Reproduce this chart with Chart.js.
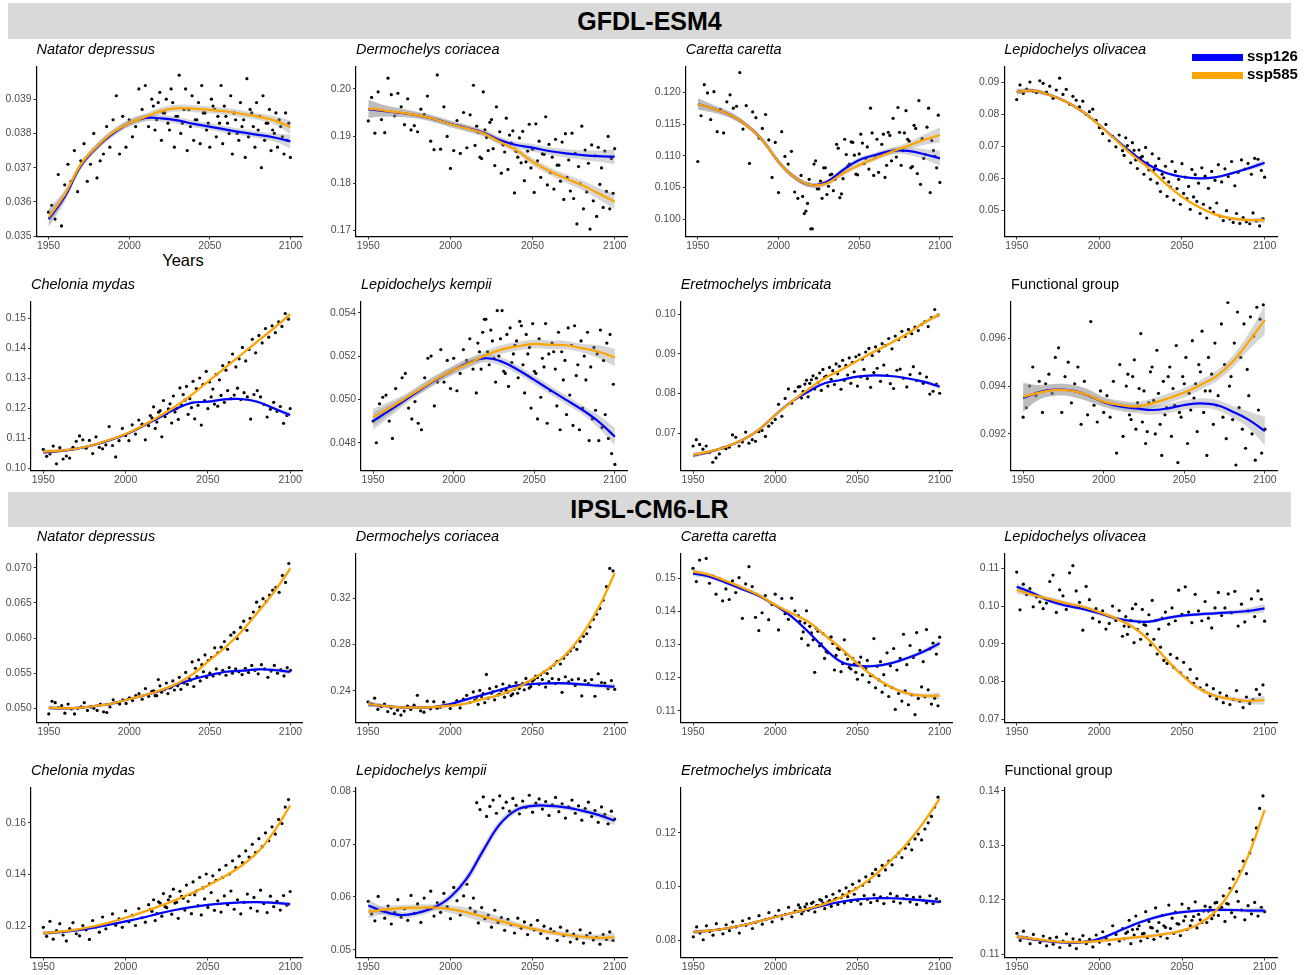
<!DOCTYPE html>
<html>
<head>
<meta charset="utf-8">
<script src="https://cdn.jsdelivr.net/npm/chart.js@4.4.1/dist/chart.umd.min.js"></script>
<style>
  body { margin: 0; background: #fff; }
  #page { position: relative; width: 1307px; height: 975px; overflow: hidden;
          font-family: 'Liberation Sans', Arial, Helvetica, sans-serif; }
  .strip { position: absolute; left: 8px; width: 1283px; background: #d9d9d9;
           text-align: center; font-weight: bold; font-size: 25px; color: #000; }
  canvas { position: absolute; }
  .swatch { position: absolute; left: 1192px; width: 51px; height: 7px; z-index: 5; }
  .keytext { position: absolute; left: 1247px; font-weight: bold; font-size: 15px;
             line-height: 15px; color: #000; z-index: 5; }
  #years { position: absolute; left: 133px; width: 100px; top: 251px; text-align: center;
           font-size: 16.5px; line-height: 18px; color: #000; }
</style>
</head>
<body>
<div id="page">
  <div class="strip" style="top:3px;height:36px;line-height:36px">GFDL-ESM4</div>
  <div class="strip" style="top:492px;height:35px;line-height:35px">IPSL-CM6-LR</div>
  <div class="swatch" style="top:54px;background:#0000ff"></div>
  <div class="keytext" style="top:48px">ssp126</div>
  <div class="swatch" style="top:72px;background:#ffa500"></div>
  <div class="keytext" style="top:66px">ssp585</div>
  <div id="years">Years</div>
</div>
<script>
// 16 panels: rows 1-2 GFDL-ESM4, rows 3-4 IPSL-CM6-LR

const yearKnots   = [1950,1960,1970,1980,1990,2000,2010,2020,2030,2040,2050,2060,2070,2080,2090,2100];
const xTickValues = [1950, 2000, 2050, 2100];
const xLimits     = [1942.5, 2107.5];

const panelNames = [
  'Natator depressus','Dermochelys coriacea','Caretta caretta','Lepidochelys olivacea',
  'Chelonia mydas','Lepidochelys kempii','Eretmochelys imbricata','Functional group',
  'Natator depressus','Dermochelys coriacea','Caretta caretta','Lepidochelys olivacea',
  'Chelonia mydas','Lepidochelys kempii','Eretmochelys imbricata','Functional group',
];

const yTickText = [
  ['0.035','0.036','0.037','0.038','0.039'], ['0.17','0.18','0.19','0.20'],
  ['0.100','0.105','0.110','0.115','0.120'], ['0.05','0.06','0.07','0.08','0.09'],
  ['0.10','0.11','0.12','0.13','0.14','0.15'], ['0.048','0.050','0.052','0.054'],
  ['0.07','0.08','0.09','0.10'], ['0.092','0.094','0.096'],
  ['0.050','0.055','0.060','0.065','0.070'], ['0.24','0.28','0.32'],
  ['0.11','0.12','0.13','0.14','0.15'], ['0.07','0.08','0.09','0.10','0.11'],
  ['0.12','0.14','0.16'], ['0.05','0.06','0.07','0.08'],
  ['0.08','0.10','0.12'], ['0.11','0.12','0.13','0.14'],
];

const yLimits = [
  [0.03499,0.03994],[0.16862,0.20468],[0.09729,0.12398],[0.0417,0.0948],
  [0.09927,0.1556],[0.04672,0.05452],[0.06062,0.10323],[0.09047,0.09754],
  [0.04798,0.07195],[0.21247,0.35836],[0.10644,0.15734],[0.06915,0.11379],
  [0.10777,0.17359],[0.04858,0.08057],[0.07346,0.13682],[0.10936,0.14055],
];

// smoothed fits at the decade knots
const smooth126 = [
  [0.0355,0.03615,0.03705,0.0376,0.038,0.0383,0.03845,0.03844,0.03838,0.03828,0.0382,0.03811,0.03803,0.03796,0.03788,0.03777],
  [0.1957,0.1953,0.1949,0.1944,0.1936,0.1926,0.1917,0.1907,0.18915,0.18809,0.18752,0.18681,0.18632,0.18596,0.1857,0.1856],
  [0.11816,0.11737,0.11643,0.11485,0.11249,0.10907,0.10661,0.1054,0.10592,0.10776,0.10934,0.11013,0.11076,0.11076,0.11028,0.1096],
  [0.08705,0.08737,0.08602,0.08392,0.08078,0.07661,0.0721,0.0678,0.06408,0.06166,0.06041,0.05991,0.06022,0.06147,0.06304,0.0648],
  [0.1053,0.1058,0.1065,0.1077,0.1093,0.1113,0.1139,0.1168,0.11967,0.1218,0.1222,0.123,0.1231,0.1222,0.12,0.11777],
  [0.049,0.04948,0.04998,0.05048,0.05095,0.05136,0.05172,0.0519,0.05174,0.05136,0.0509,0.05043,0.04997,0.04951,0.04897,0.04828],
  [0.0644,0.0653,0.0666,0.06831,0.07084,0.07462,0.07797,0.08049,0.08261,0.08344,0.08428,0.08462,0.08445,0.08387,0.08302,0.08176],
  [0.0935,0.09375,0.09385,0.09382,0.09362,0.09333,0.09315,0.09307,0.093,0.09307,0.09321,0.09328,0.09321,0.09293,0.09259,0.09212],
  [0.05005,0.05,0.05009,0.05037,0.05071,0.05132,0.05189,0.05255,0.05341,0.05417,0.05474,0.0552,0.05535,0.05555,0.05545,0.0552],
  [0.2284,0.22675,0.22563,0.22528,0.22589,0.2285,0.2325,0.2365,0.2406,0.24433,0.2458,0.24641,0.24641,0.24554,0.24433,0.24346],
  [0.1515,0.1505,0.1487,0.1467,0.1447,0.1418,0.1384,0.13387,0.12885,0.12481,0.1236,0.1235,0.1243,0.12583,0.12783,0.13036],
  [0.10513,0.10338,0.10134,0.1001,0.09922,0.09808,0.09675,0.09604,0.09586,0.09675,0.09744,0.09781,0.09808,0.09834,0.09869,0.0994],
  [0.1172,0.1176,0.1183,0.1193,0.1205,0.1218,0.1232,0.1248,0.1262,0.1273,0.1282,0.1288,0.1292,0.1293,0.129,0.1285],
  [0.0584,0.0572,0.0566,0.057,0.058,0.06,0.0635,0.0688,0.0737,0.0764,0.0772,0.0772,0.0769,0.0763,0.0755,0.0744],
  [0.083,0.0835,0.0843,0.0855,0.087,0.0886,0.0901,0.0915,0.093,0.0943,0.0952,0.0956,0.0956,0.0953,0.0948,0.0942],
  [0.1132,0.1127,0.1123,0.1121,0.1122,0.1128,0.114,0.1153,0.1164,0.1172,0.1177,0.118,0.1181,0.1181,0.118,0.118],
];

const smooth585 = [
  [0.03555,0.03621,0.03709,0.03762,0.03803,0.0383,0.03848,0.03866,0.03874,0.03872,0.03869,0.03864,0.03857,0.03849,0.03838,0.03818],
  [0.19589,0.19539,0.19496,0.1944,0.19362,0.19255,0.19163,0.19057,0.18879,0.18702,0.18453,0.18262,0.181,0.17957,0.17781,0.17602],
  [0.11816,0.11737,0.11643,0.11485,0.11249,0.10907,0.10661,0.1054,0.10567,0.10724,0.10855,0.10961,0.11065,0.11154,0.11249,0.11328],
  [0.08705,0.08737,0.08602,0.08392,0.08078,0.07661,0.07191,0.06721,0.06304,0.05834,0.05414,0.051,0.04862,0.04737,0.04683,0.04683],
  [0.10553,0.10587,0.10653,0.10777,0.10943,0.11143,0.1141,0.1172,0.12053,0.12443,0.12887,0.13333,0.13777,0.1422,0.14667,0.15133],
  [0.04917,0.04959,0.05005,0.05051,0.05097,0.05136,0.05169,0.05205,0.05231,0.05246,0.05256,0.05252,0.0525,0.05236,0.0522,0.05194],
  [0.06453,0.06537,0.06663,0.06831,0.07084,0.07462,0.07797,0.08109,0.08387,0.08596,0.0883,0.09057,0.09269,0.09503,0.09773,0.1],
  [0.09356,0.09373,0.09384,0.09381,0.09363,0.09335,0.09321,0.09314,0.09328,0.09349,0.09373,0.09405,0.09442,0.09502,0.09586,0.09677],
  [0.05009,0.05,0.05009,0.05037,0.05071,0.05132,0.05189,0.0526,0.05355,0.05497,0.05687,0.05876,0.061,0.06374,0.06659,0.06991],
  [0.22849,0.22675,0.22563,0.22528,0.22589,0.22701,0.22909,0.23281,0.23628,0.24208,0.25013,0.25939,0.27091,0.28822,0.31134,0.34165],
  [0.152,0.151,0.14918,0.14716,0.14495,0.14193,0.13943,0.13689,0.13287,0.12885,0.12432,0.12027,0.11725,0.11526,0.11453,0.11453],
  [0.10425,0.10293,0.10187,0.10073,0.09983,0.09834,0.09675,0.09453,0.09101,0.08616,0.08174,0.07821,0.07625,0.07538,0.07485,0.07511],
  [0.1172,0.1178,0.1186,0.1198,0.1213,0.1232,0.1253,0.1276,0.13,0.1327,0.1357,0.1392,0.1432,0.1485,0.1565,0.1668],
  [0.0572,0.0576,0.0579,0.058,0.058,0.0577,0.0571,0.0563,0.0555,0.0547,0.054,0.0534,0.0529,0.0525,0.0523,0.0524],
  [0.083,0.0835,0.0843,0.0855,0.087,0.0886,0.0901,0.0917,0.0935,0.096,0.0995,0.104,0.1095,0.116,0.1238,0.1328],
  [0.1132,0.1128,0.1124,0.1122,0.1122,0.1124,0.1127,0.113,0.1133,0.1137,0.1143,0.1155,0.1178,0.1218,0.128,0.1365],
];

// half-width of the grey confidence ribbon at each knot
const ribbon = [
  [0.00025,0.00015,0.0001,0.0001,0.0001,0.0001,0.0001,0.0001,0.0001,0.0001,0.0001,0.0001,0.0001,0.0001,0.00012,0.0002],
  [0.0019,0.0012,0.0009,0.0007,0.0007,0.0007,0.0007,0.0007,0.0007,0.0007,0.0008,0.0008,0.0009,0.001,0.0012,0.0016],
  [0.0009,0.0006,0.0005,0.0004,0.0004,0.0004,0.0004,0.0004,0.0004,0.0004,0.0004,0.0004,0.0005,0.0006,0.0008,0.0012],
  [0.0009,0.0006,0.0005,0.0004,0.0004,0.0004,0.0004,0.0004,0.0004,0.0004,0.0004,0.0004,0.0004,0.0005,0.0006,0.001],
  [0.0008,0.0005,0.0004,0.0004,0.0004,0.0004,0.0004,0.0004,0.0004,0.0004,0.0004,0.0004,0.0004,0.0005,0.0006,0.0008],
  [0.0004,0.0003,0.0002,0.0002,0.0002,0.0002,0.0002,0.0002,0.0002,0.0002,0.0002,0.0002,0.0002,0.0002,0.0003,0.0004],
  [0.0006,0.0004,0.0003,0.0003,0.0003,0.0003,0.0003,0.0003,0.0003,0.0003,0.0003,0.0003,0.0003,0.0003,0.0004,0.0006],
  [0.0006,0.0003,0.00025,0.00025,0.00025,0.0002,0.0002,0.0002,0.0002,0.0002,0.0002,0.0002,0.00022,0.00025,0.00035,0.0006],
  [0.0003,0.0002,0.0002,0.00015,0.00015,0.00015,0.00015,0.00015,0.00015,0.00015,0.00015,0.00015,0.0002,0.0002,0.0003,0.0004],
  [0.0025,0.0015,0.0012,0.0012,0.0012,0.0012,0.0012,0.0012,0.0012,0.0012,0.0012,0.0012,0.0015,0.0015,0.002,0.0025],
  [0.0009,0.0006,0.0005,0.0005,0.0005,0.0005,0.0005,0.0005,0.0005,0.0005,0.0005,0.0005,0.0005,0.0006,0.0007,0.001],
  [0.001,0.0006,0.0005,0.0005,0.0005,0.0005,0.0005,0.0005,0.0005,0.0005,0.0005,0.0005,0.0005,0.0006,0.0008,0.0012],
  [0.0008,0.0005,0.0004,0.0004,0.0004,0.0004,0.0004,0.0004,0.0004,0.0004,0.0004,0.0004,0.0004,0.0005,0.0006,0.0009],
  [0.0012,0.0007,0.0006,0.0006,0.0006,0.0007,0.0009,0.001,0.0008,0.0006,0.0005,0.0005,0.0005,0.0005,0.0006,0.0009],
  [0.0008,0.0005,0.0004,0.0004,0.0004,0.0004,0.0004,0.0004,0.0004,0.0004,0.0004,0.0004,0.0005,0.0005,0.0006,0.0009],
  [0.0005,0.0003,0.0003,0.0003,0.0003,0.0003,0.0003,0.0003,0.0003,0.0003,0.0003,0.0003,0.0003,0.0003,0.0004,0.0006],
];

// yearly model output, sampled every 2nd year
const histStart = 1950, start126 = 2016, start585 = 2015, yearStep = 2;

const dotsHist = [
  [0.0357,0.0359,0.0355,0.0368,0.0353,0.0365,0.0371,0.0366,0.0375,0.0363,0.0372,0.0377,0.0366,0.0371,0.038,0.0367,0.0372,0.0374,0.0382,0.0376,0.0384,0.0391,0.0374,0.0385,0.0376,0.0384,0.0379,0.0382,0.0393,0.0387,0.0394,0.0382,0.039],
  [0.1932,0.1982,0.1906,0.1994,0.1935,0.1907,0.2023,0.1988,0.1943,0.1991,0.1962,0.1924,0.1979,0.1913,0.1922,0.1909,0.1957,0.1946,0.1985,0.1889,0.1871,0.203,0.1872,0.1962,0.1899,0.1831,0.1869,0.1933,0.1863,0.195,0.1875,0.1945,0.2008],
  [0.1091,0.1163,0.1212,0.1199,0.1157,0.1201,0.1138,0.1173,0.1136,0.1185,0.1196,0.1175,0.1178,0.1231,0.1142,0.1179,0.1088,0.1169,0.116,0.1128,0.1143,0.1165,0.1125,0.1066,0.1121,0.1042,0.1138,0.1099,0.1087,0.1107,0.1043,0.1033,0.1069],
  [0.0846,0.0892,0.0865,0.0879,0.0901,0.0872,0.0868,0.0905,0.0897,0.0869,0.0888,0.085,0.0876,0.0913,0.0862,0.0878,0.0832,0.0856,0.0844,0.0823,0.0841,0.08,0.0808,0.0816,0.0781,0.0758,0.0739,0.0768,0.0717,0.0731,0.0698,0.0735,0.0686],
  [0.1063,0.104,0.1048,0.1074,0.1015,0.1069,0.1031,0.1041,0.1034,0.107,0.109,0.1108,0.1095,0.1067,0.1093,0.1049,0.1105,0.107,0.1065,0.1078,0.1139,0.1076,0.1038,0.1092,0.1133,0.1109,0.1092,0.1145,0.1114,0.1161,0.1147,0.1095,0.1142],
  [0.049,0.048,0.0498,0.0501,0.0502,0.049,0.0482,0.0505,0.0498,0.051,0.0512,0.0496,0.0491,0.0499,0.0489,0.0486,0.051,0.0519,0.052,0.0497,0.0508,0.0523,0.0508,0.0518,0.0505,0.0519,0.0504,0.0512,0.0523,0.0518,0.0528,0.0514,0.0503],
  [0.0668,0.0684,0.0672,0.066,0.0668,0.0652,0.0627,0.0638,0.0648,0.0663,0.0661,0.0665,0.0696,0.069,0.0668,0.0678,0.0703,0.0675,0.0684,0.068,0.0704,0.0707,0.0692,0.0718,0.0726,0.0735,0.0773,0.0743,0.0788,0.0812,0.0776,0.0806,0.0817],
  [0.0927,0.0931,0.094,0.0948,0.0936,0.0942,0.0929,0.0941,0.0945,0.0937,0.0952,0.0956,0.0929,0.0944,0.095,0.0933,0.0941,0.0948,0.0924,0.0942,0.0928,0.0967,0.0932,0.0925,0.0938,0.0929,0.0936,0.0927,0.0942,0.0912,0.0949,0.0919,0.094],
  [0.0492,0.051,0.0508,0.0501,0.0504,0.0493,0.0506,0.0499,0.0492,0.05,0.0502,0.0508,0.0497,0.0502,0.05,0.0497,0.0506,0.0495,0.0494,0.0502,0.0512,0.0508,0.0506,0.0512,0.0507,0.0515,0.0511,0.0518,0.0521,0.0513,0.0528,0.0517,0.0524],
  [0.2304,0.2287,0.2335,0.2239,0.2262,0.2284,0.2219,0.2251,0.2202,0.2231,0.2189,0.2224,0.2267,0.2238,0.2275,0.236,0.2226,0.2214,0.2309,0.2243,0.2305,0.2248,0.2257,0.2301,0.2272,0.2246,0.2289,0.2314,0.2251,0.2327,0.236,0.2298,0.2389],
  [0.153,0.149,0.1555,0.1512,0.156,0.1485,0.1507,0.1452,0.1498,0.1432,0.1468,0.1436,0.1492,0.1457,0.1502,0.1379,0.1483,0.1535,0.1475,0.1382,0.1342,0.1396,0.1448,0.1375,0.1421,0.1452,0.1344,0.1439,0.1393,0.1376,0.144,0.1402,0.1387],
  [0.109,0.099,0.1058,0.103,0.1046,0.0998,0.1024,0.1011,0.0993,0.1008,0.1065,0.1082,0.0983,0.1043,0.1027,0.0991,0.1088,0.1107,0.104,0.101,0.0936,0.1052,0.1017,0.0968,0.0993,0.0958,0.0987,0.0939,0.0954,0.1,0.0962,0.0988,0.092],
  [0.1195,0.116,0.1218,0.1149,0.1182,0.1209,0.1165,0.1142,0.119,0.1213,0.117,0.1162,0.1202,0.1185,0.1148,0.1221,0.1196,0.1176,0.1235,0.1189,0.121,0.1247,0.1203,0.1228,0.1195,0.1259,0.1217,0.1241,0.1202,0.1268,0.1232,0.1215,0.1283],
  [0.0592,0.0568,0.0555,0.0601,0.0574,0.056,0.0583,0.0549,0.0571,0.0595,0.0562,0.0578,0.0556,0.0603,0.0569,0.0587,0.0552,0.0598,0.0576,0.0611,0.0564,0.0589,0.0571,0.0607,0.0582,0.0559,0.0618,0.0593,0.0566,0.0602,0.0624,0.0579,0.0598],
  [0.0812,0.0849,0.0826,0.0801,0.0853,0.0832,0.0818,0.0861,0.084,0.0823,0.0857,0.0835,0.0868,0.0849,0.0826,0.0872,0.0855,0.0881,0.0843,0.0866,0.0891,0.0859,0.0877,0.0902,0.0868,0.0889,0.0911,0.0879,0.0896,0.0922,0.0887,0.0908,0.0931],
  [0.1138,0.1125,0.1142,0.113,0.1119,0.1136,0.1127,0.1121,0.1133,0.1115,0.1129,0.1118,0.1131,0.1112,0.1124,0.1137,0.1116,0.1128,0.111,0.1126,0.1134,0.1119,0.1127,0.1113,0.1135,0.1122,0.1141,0.1129,0.1118,0.1152,0.1136,0.1124,0.1147],
];

const dots126 = [
  [0.0381,0.0389,0.0378,0.0386,0.0383,0.0393,0.0376,0.0385,0.038,0.0387,0.0375,0.0382,0.0378,0.0384,0.0377,0.0386,0.0381,0.0376,0.0388,0.0379,0.0383,0.0377,0.0385,0.038,0.0374,0.0384,0.0378,0.0382,0.0373,0.0379,0.0386,0.0376,0.0381,0.037,0.0378,0.0383,0.0375,0.038,0.0376,0.0382,0.0374,0.0378,0.0373],
  [0.1921,0.1855,0.1994,0.1897,0.1929,0.1873,0.1962,0.1909,0.1881,0.1938,0.1902,0.1911,0.1867,0.1896,0.191,0.1845,0.1925,0.1872,0.1926,0.1889,0.1862,0.1941,0.1882,0.1855,0.1893,0.1838,0.1887,0.1905,0.1849,0.1906,0.1863,0.1835,0.1921,0.187,0.1842,0.1881,0.1858,0.1876,0.1832,0.1868,0.1899,0.1852,0.1873],
  [0.1009,0.1025,0.0985,0.1087,0.1048,0.106,0.1081,0.1039,0.107,0.1045,0.1118,0.1034,0.1064,0.1102,0.1087,0.1121,0.1071,0.1103,0.112,0.1096,0.1079,0.1136,0.1097,0.1074,0.1118,0.1066,0.1137,0.1092,0.1109,0.1176,0.1085,0.1136,0.1126,0.1081,0.1148,0.1072,0.1055,0.1096,0.1145,0.1042,0.1108,0.1081,0.1058],
  [0.0726,0.0685,0.0711,0.0657,0.0688,0.0668,0.0696,0.0626,0.0676,0.0638,0.0661,0.0612,0.0637,0.0588,0.0652,0.0621,0.0596,0.0645,0.0603,0.0574,0.0627,0.0611,0.0584,0.0632,0.0606,0.0568,0.0621,0.0593,0.0642,0.0588,0.0629,0.0605,0.0652,0.0576,0.0618,0.0657,0.0628,0.0646,0.0612,0.0662,0.0659,0.0624,0.0603],
  [0.1168,0.1133,0.1187,0.1105,0.1172,0.1198,0.1151,0.1188,0.1163,0.1211,0.1227,0.118,0.1202,0.1165,0.121,0.1144,0.1226,0.1199,0.1238,0.1214,0.1207,0.1243,0.122,0.1259,0.1232,0.1244,0.1267,0.1229,0.1252,0.1238,0.1164,0.1246,0.1259,0.1238,0.1213,0.1171,0.1197,0.122,0.119,0.1206,0.115,0.1176,0.1199],
  [0.0522,0.0531,0.0537,0.0516,0.0527,0.0508,0.052,0.0541,0.0512,0.0506,0.0517,0.0525,0.051,0.0534,0.0503,0.0521,0.0496,0.0513,0.0491,0.0501,0.0515,0.0489,0.0504,0.0522,0.0497,0.0486,0.0509,0.0493,0.0502,0.0488,0.0511,0.0486,0.0496,0.0509,0.0481,0.0491,0.0495,0.0481,0.0487,0.0493,0.0482,0.0475,0.047],
  [0.0789,0.0824,0.0792,0.0835,0.0812,0.0828,0.0808,0.0842,0.0819,0.0836,0.0823,0.085,0.0811,0.0834,0.0847,0.0826,0.0855,0.0819,0.0842,0.0861,0.0838,0.0816,0.0853,0.0864,0.0831,0.0872,0.0846,0.0825,0.0813,0.0859,0.0862,0.0839,0.0817,0.0848,0.0868,0.0833,0.0851,0.0826,0.0842,0.0799,0.0806,0.0824,0.0801],
  [0.0928,0.0944,0.0922,0.0939,0.0925,0.0916,0.0933,0.0948,0.092,0.0937,0.0911,0.0928,0.0944,0.0919,0.0932,0.0908,0.0927,0.0941,0.0916,0.093,0.0935,0.0921,0.0946,0.0929,0.0911,0.0938,0.0924,0.0932,0.0903,0.0927,0.0918,0.094,0.0926,0.0907,0.0931,0.0922,0.0914,0.0936,0.092,0.0909,0.093,0.0912,0.0922],
  [0.0518,0.0541,0.0523,0.0527,0.0521,0.053,0.0526,0.0532,0.0527,0.0536,0.0534,0.054,0.0531,0.0545,0.0539,0.0552,0.0544,0.055,0.0546,0.0556,0.0549,0.0554,0.0547,0.0558,0.055,0.0556,0.0552,0.0548,0.0557,0.0551,0.0561,0.0554,0.0549,0.0562,0.0556,0.0544,0.0553,0.0561,0.055,0.0555,0.0546,0.0558,0.0554],
  [0.2343,0.2402,0.2375,0.2541,0.2418,0.2392,0.2436,0.2371,0.2458,0.2402,0.2442,0.2372,0.2471,0.2418,0.2461,0.2506,0.2423,0.2482,0.2527,0.2455,0.2496,0.2431,0.2478,0.2505,0.2462,0.2498,0.2386,0.2521,0.2476,0.2495,0.2446,0.2502,0.2355,0.2488,0.2462,0.2496,0.2352,0.2547,0.2471,0.2466,0.2417,0.2488,0.2412],
  [0.1318,0.1365,0.1298,0.1335,0.1216,0.134,0.1302,0.1258,0.1275,0.1323,0.1223,0.1289,0.1218,0.1314,0.1256,0.1226,0.1241,0.1195,0.1262,0.1228,0.1252,0.1206,0.1318,0.1234,0.1248,0.1209,0.1275,0.1236,0.1288,0.1223,0.1258,0.1331,0.1239,0.1297,0.1261,0.1336,0.1282,0.1248,0.1345,0.1287,0.1304,0.1271,0.1322],
  [0.0972,0.0946,0.0993,0.1005,0.0958,0.0991,0.0949,0.0977,0.1015,0.0962,0.0939,0.0968,0.0984,0.0952,0.0995,0.0961,0.1042,0.0978,0.1051,0.0984,0.0956,0.1031,0.0987,0.0961,0.1012,0.0968,0.0942,0.0995,0.1036,0.0975,0.0995,0.1032,0.0982,0.1039,0.0947,0.1005,0.0958,0.0987,0.1019,0.0972,0.104,0.1018,0.096],
  [0.1257,0.1221,0.1294,0.1238,0.1275,0.1302,0.1246,0.1289,0.123,0.1315,0.1262,0.1296,0.1248,0.1321,0.1279,0.1243,0.1305,0.1272,0.133,0.1261,0.1298,0.1254,0.1317,0.1283,0.1336,0.1265,0.1302,0.1247,0.1292,0.1324,0.127,0.1311,0.1258,0.1339,0.1287,0.1252,0.1316,0.1275,0.1296,0.1262,0.1318,0.1281,0.1334],
  [0.0778,0.0765,0.0789,0.0752,0.0771,0.0783,0.0758,0.0791,0.0768,0.0779,0.0762,0.0786,0.0773,0.0757,0.0781,0.0769,0.0792,0.076,0.0777,0.0785,0.0766,0.078,0.0754,0.0774,0.0788,0.0761,0.0776,0.0749,0.077,0.0783,0.0758,0.0772,0.0745,0.0767,0.0779,0.0752,0.0763,0.0741,0.077,0.0756,0.0738,0.0762,0.0747],
  [0.0898,0.0924,0.0911,0.0937,0.0905,0.0929,0.0948,0.0917,0.0942,0.0926,0.0951,0.0933,0.0958,0.0939,0.0962,0.0944,0.0971,0.0948,0.0935,0.0966,0.0952,0.094,0.0969,0.0947,0.0961,0.0936,0.0958,0.0973,0.0944,0.0964,0.0938,0.0955,0.0967,0.0942,0.0959,0.0933,0.0961,0.0948,0.0939,0.0965,0.0936,0.0954,0.0944],
  [0.1138,0.1162,0.1145,0.117,0.1152,0.1137,0.1178,0.116,0.1148,0.1185,0.1158,0.1171,0.1149,0.119,0.1166,0.1177,0.1155,0.1192,0.1169,0.1184,0.1162,0.1196,0.1173,0.1158,0.1188,0.1179,0.1165,0.1194,0.1171,0.1186,0.116,0.1192,0.1176,0.1168,0.1197,0.1181,0.1163,0.1189,0.1174,0.1195,0.117,0.1186,0.1178],
];

const dots585 = [
  [0.0388,0.0384,0.0392,0.0386,0.039,0.0381,0.0389,0.0385,0.0397,0.0383,0.0393,0.0387,0.0391,0.0384,0.0389,0.0394,0.0386,0.0383,0.039,0.0387,0.0385,0.0394,0.0388,0.0383,0.0391,0.0386,0.038,0.0389,0.0384,0.0396,0.0387,0.0382,0.0389,0.0385,0.0391,0.0383,0.0387,0.0381,0.0386,0.0384,0.0379,0.0386,0.0383],
  [0.188,0.1908,0.1852,0.1913,0.1869,0.1935,0.1837,0.1891,0.1821,0.1866,0.1829,0.1885,0.1779,0.1855,0.1843,0.1805,0.1868,0.1832,0.178,0.1847,0.1812,0.1861,0.1796,0.1823,0.1787,0.1838,0.1804,0.1765,0.1812,0.1783,0.1767,0.1713,0.1798,0.1745,0.1781,0.1702,0.1762,0.1729,0.1797,0.1748,0.1782,0.1745,0.1778],
  [0.1036,0.1013,0.1063,0.0985,0.1092,0.1048,0.1033,0.1081,0.1052,0.1071,0.1063,0.1112,0.104,0.1126,0.1084,0.1122,0.1101,0.107,0.1134,0.1088,0.1114,0.1175,0.1069,0.1126,0.1102,0.1134,0.1085,0.1132,0.1159,0.1098,0.1137,0.1108,0.1171,0.1123,0.1083,0.1143,0.1187,0.1127,0.1102,0.1175,0.1124,0.1099,0.1164],
  [0.0671,0.0702,0.0648,0.0687,0.063,0.0664,0.0612,0.0647,0.0596,0.0625,0.0584,0.0558,0.0601,0.0543,0.0572,0.0531,0.0567,0.0518,0.0552,0.0536,0.0502,0.0541,0.0527,0.0489,0.0518,0.0475,0.0506,0.0493,0.0522,0.0481,0.0467,0.0498,0.0472,0.0461,0.0489,0.0458,0.0476,0.0463,0.0457,0.0491,0.0466,0.045,0.0473],
  [0.1176,0.1205,0.1154,0.1192,0.1226,0.1183,0.1215,0.1241,0.1199,0.1268,0.1246,0.1273,0.1232,0.129,0.1266,0.1301,0.1279,0.1323,0.1288,0.1264,0.1312,0.1295,0.1342,0.1327,0.1352,0.1381,0.1338,0.1365,0.1403,0.1358,0.1396,0.143,0.1385,0.1443,0.1418,0.1466,0.1437,0.1475,0.1452,0.1488,0.1473,0.1516,0.1497],
  [0.0526,0.0514,0.0537,0.0522,0.0532,0.0519,0.0541,0.0528,0.0513,0.053,0.0533,0.0521,0.0527,0.0536,0.0516,0.053,0.0524,0.0535,0.0512,0.0528,0.0519,0.0535,0.0521,0.0526,0.0514,0.0531,0.0522,0.0518,0.0533,0.0525,0.0534,0.0516,0.0527,0.052,0.0531,0.0515,0.0524,0.0521,0.0532,0.0518,0.0526,0.053,0.0507],
  [0.0818,0.0806,0.0834,0.0826,0.0845,0.0839,0.0852,0.0861,0.0844,0.0866,0.0858,0.0875,0.0869,0.0884,0.0871,0.089,0.0879,0.0893,0.0898,0.0887,0.0905,0.0914,0.0896,0.0918,0.0907,0.0926,0.0921,0.0939,0.0913,0.0945,0.0936,0.0957,0.0944,0.0962,0.0951,0.0968,0.0959,0.0975,0.0981,0.0969,0.0992,0.1012,0.0998],
  [0.0945,0.0926,0.0951,0.0933,0.0962,0.0938,0.0921,0.0946,0.0934,0.0955,0.0924,0.0942,0.0931,0.0948,0.0939,0.0957,0.0929,0.0944,0.0952,0.0937,0.0959,0.0941,0.0949,0.0963,0.0938,0.0952,0.0945,0.0958,0.0936,0.0966,0.0949,0.0975,0.0944,0.0958,0.0971,0.0952,0.0966,0.0947,0.0969,0.0961,0.0973,0.0968,0.0974],
  [0.0525,0.0518,0.0532,0.0526,0.0536,0.0529,0.0539,0.0534,0.0544,0.0537,0.0551,0.0543,0.0566,0.0557,0.0569,0.0562,0.0576,0.0568,0.0572,0.0586,0.0579,0.0587,0.0595,0.0584,0.0604,0.0608,0.0599,0.0615,0.0624,0.0611,0.0628,0.0637,0.0651,0.0644,0.0656,0.0652,0.0661,0.0668,0.0672,0.0665,0.0689,0.0679,0.0706],
  [0.2318,0.2282,0.2349,0.2296,0.2335,0.2379,0.2321,0.2362,0.2401,0.2344,0.2387,0.2358,0.2412,0.2378,0.2446,0.2408,0.2473,0.2437,0.2498,0.2514,0.2538,0.2561,0.2548,0.2597,0.2622,0.2655,0.2631,0.2682,0.2716,0.2744,0.2779,0.2758,0.2827,0.2871,0.2893,0.2951,0.3018,0.3062,0.3112,0.3183,0.3301,0.3459,0.3437],
  [0.137,0.1338,0.1402,0.1355,0.1314,0.1349,0.1296,0.1333,0.1279,0.1319,0.1303,0.1267,0.1285,0.1242,0.1271,0.1231,0.1258,0.1216,0.1245,0.1208,0.1227,0.1186,0.1206,0.1169,0.1193,0.1156,0.1178,0.1143,0.117,0.1104,0.1152,0.1129,0.116,0.1118,0.1148,0.1088,0.1137,0.1172,0.1142,0.1163,0.112,0.1138,0.1115],
  [0.0947,0.0925,0.0962,0.0903,0.0938,0.0912,0.0951,0.0926,0.0897,0.0912,0.0873,0.0891,0.0856,0.0848,0.0872,0.0838,0.0862,0.0823,0.0851,0.0809,0.0832,0.0795,0.0808,0.0783,0.0776,0.0791,0.0762,0.0781,0.0754,0.077,0.0744,0.0762,0.0739,0.0753,0.0776,0.0748,0.0731,0.0759,0.0742,0.0752,0.0779,0.0766,0.0791],
  [0.1265,0.1302,0.1248,0.1289,0.1326,0.1271,0.1315,0.1343,0.1292,0.1335,0.1308,0.1359,0.1322,0.1371,0.1336,0.1389,0.1348,0.1402,0.1364,0.1395,0.1377,0.1418,0.1389,0.1436,0.1402,0.1453,0.1427,0.1471,0.1446,0.1492,0.1468,0.1517,0.1485,0.1539,0.1508,0.1562,0.1531,0.1585,0.1557,0.1614,0.1598,0.1662,0.1691],
  [0.0572,0.0551,0.058,0.0559,0.0566,0.0543,0.0575,0.0552,0.0561,0.0537,0.0558,0.0548,0.0532,0.056,0.0541,0.0553,0.0529,0.0547,0.0538,0.0556,0.0531,0.0545,0.0522,0.054,0.0534,0.0518,0.0543,0.0527,0.0536,0.0515,0.053,0.0521,0.0538,0.0513,0.0527,0.0532,0.0519,0.0524,0.0511,0.0529,0.052,0.0534,0.0518],
  [0.0921,0.0908,0.0935,0.0917,0.0942,0.0929,0.0951,0.0938,0.0962,0.0947,0.0971,0.0956,0.0984,0.0969,0.0995,0.0981,0.1008,0.0992,0.1021,0.1005,0.1036,0.1019,0.1048,0.1064,0.1041,0.1079,0.1062,0.1095,0.1081,0.1112,0.1126,0.1108,0.1143,0.1159,0.1137,0.1178,0.1196,0.1174,0.1215,0.1238,0.1262,0.1297,0.1334],
  [0.1128,0.1141,0.1119,0.1135,0.1146,0.1124,0.1138,0.113,0.1149,0.1127,0.1142,0.1133,0.1152,0.1129,0.1147,0.1138,0.1156,0.1134,0.1161,0.1145,0.1152,0.1169,0.1148,0.1163,0.1179,0.1158,0.1186,0.1172,0.1195,0.1183,0.1207,0.1193,0.1221,0.1238,0.1215,0.1252,0.1271,0.1248,0.1286,0.131,0.1332,0.1368,0.1391],
];

// page layout (px)
const rowTop     = [67, 301.5, 554, 788];
const rowBottom  = [236.5, 470.5, 722.5, 957.5];
const colLeft    = [0, 325, 650, 975];
const colRight   = [302.5, 627, 952, 1277];
const axisLeft   = [36.5, 356, 685.7, 1004.3, 31, 361, 680.7, 1011,
                    36.7, 355.7, 680.7, 1004.3, 31, 356, 681, 1004.5];

const BLUE = '#0000ff', ORANGE = '#ffa500', RIBBON = 'rgba(153,153,153,0.4)';
const FONT = "'Liberation Sans', Arial, Helvetica, sans-serif";
const TITLE_SIZE = 14.5, TITLE_GAP = 8;

function dots(values, start) {
  return values.map((y, i) => ({ x: start + i * yearStep, y }));
}

function curve(values, shift = null, sign = 0) {
  return yearKnots.map((x, i) => ({ x, y: values[i] + (shift ? sign * shift[i] : 0) }));
}

function fitLine(values, color, order) {
  return { data: curve(values), showLine: true, borderColor: color, borderWidth: 2.2,
           pointRadius: 0, tension: 0.4, fill: false, order };
}

function fitRibbon(values, half) {
  const base = { showLine: true, borderWidth: 0, pointRadius: 0,
                 tension: 0.4, backgroundColor: RIBBON, order: 2 };
  return [
    { ...base, data: curve(values, half, 1), fill: '+1' },
    { ...base, data: curve(values, half, -1), fill: false },
  ];
}

function dotSet(data) {
  return { data, pointRadius: 1.6, pointBackgroundColor: '#000', pointBorderWidth: 0, order: 3 };
}

function axisStyle() {
  return {
    grid:   { display: true, drawOnChartArea: false, drawTicks: true, tickLength: 3, color: '#333' },
    border: { display: true, color: '#000', width: 1.2 },
  };
}

function makePanel(p) {
  const r = Math.floor(p / 4), c = p % 4;
  const top = Math.round(rowTop[r]) - 40;
  const bottom = Math.round(rowBottom[r]) + 24;
  const width = Math.round(colRight[c] - colLeft[c]) + 8;

  const canvas = document.createElement('canvas');
  canvas.width = width;
  canvas.height = bottom - top;
  canvas.style.left = colLeft[c] + 'px';
  canvas.style.top = top + 'px';
  document.getElementById('page').appendChild(canvas);

  const tickFont = { family: FONT, size: 10.4 };
  const labels = yTickText[p];
  const name = panelNames[p];

  new Chart(canvas, {
    type: 'scatter',
    data: {
      datasets: [
        fitLine(smooth585[p], ORANGE, 0),
        fitLine(smooth126[p], BLUE, 1),
        ...fitRibbon(smooth585[p], ribbon[p]),
        ...fitRibbon(smooth126[p], ribbon[p]),
        dotSet(dots(dotsHist[p], histStart)),
        dotSet(dots(dots126[p], start126)),
        dotSet(dots(dots585[p], start585)),
      ],
    },
    options: {
      responsive: false,
      animation: false,
      devicePixelRatio: 1,
      events: [],
      layout: { padding: { top: rowTop[r] - top - (TITLE_SIZE * 1.2 + TITLE_GAP), right: width - (colRight[c] - colLeft[c]), bottom: 0, left: 0 } },
      plugins: {
        legend:  { display: false },
        tooltip: { enabled: false },
        title: {
          display: true, text: name, align: 'start', fullSize: false, color: '#000',
          font: { family: FONT, size: TITLE_SIZE, style: name === 'Functional group' ? 'normal' : 'italic', weight: 'normal' },
          padding: { top: 0, bottom: TITLE_GAP },
        },
      },
      scales: {
        x: {
          type: 'linear', min: xLimits[0], max: xLimits[1],
          ...axisStyle(),
          afterBuildTicks: s => { s.ticks = xTickValues.map(v => ({ value: v })); },
          afterFit: s => { s.height = bottom - rowBottom[r]; },
          ticks: { autoSkip: false, maxRotation: 0, padding: 0, color: '#4d4d4d', font: tickFont, callback: v => String(v) },
        },
        y: {
          type: 'linear', min: yLimits[p][0], max: yLimits[p][1],
          ...axisStyle(),
          afterBuildTicks: s => { s.ticks = labels.map(t => ({ value: parseFloat(t) })); },
          afterFit: s => { s.width = axisLeft[p] - colLeft[c]; },
          ticks: { autoSkip: false, padding: 2, color: '#4d4d4d', font: tickFont, callback: (v, i) => labels[i] },
        },
      },
    },
  });
}

panelNames.forEach((_, p) => makePanel(p));
</script>
</body>
</html>
